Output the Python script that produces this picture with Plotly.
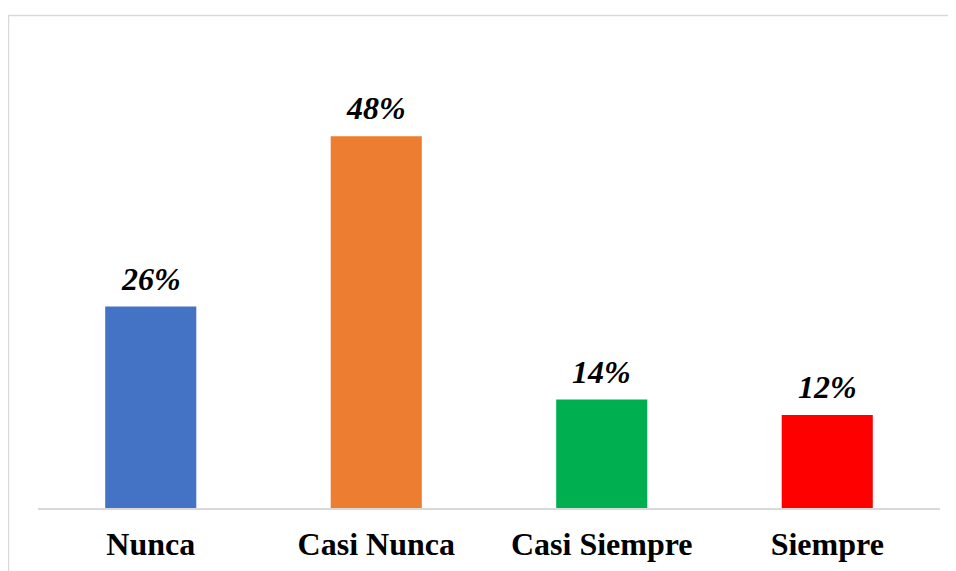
import plotly.graph_objects as go

categories = ["Nunca", "Casi Nunca", "Casi Siempre", "Siempre"]
values = [26, 48, 14, 12]
labels = ["26%", "48%", "14%", "12%"]
colors = ["#4472C4", "#ED7D31", "#00B050", "#FF0000"]

# the page adds a small body margin, so positions are offset
OFFX, OFFY = 8, 7
W, H = 956, 571
ml, mr = 38 - OFFX, W - (940 - OFFX)
mt, mb = 81 - OFFY, H - (507 - OFFY)
ymax = 55

fig = go.Figure()
fig.add_trace(go.Bar(
    x=categories, y=values, marker=dict(color=colors, line=dict(width=0)),
    width=0.404, hoverinfo="skip",
))

for c, v, t in zip(categories, values, labels):
    fig.add_annotation(
        x=c, y=v, text=f"<b><i>{t}</i></b>", showarrow=False,
        yanchor="bottom", yshift=8,
        font=dict(family="Liberation Serif", size=32, color="#000000"),
    )

plot_w = W - ml - mr
plot_h = H - mt - mb
plot_bottom = H - mb
fig.add_shape(
    type="rect", xref="paper", yref="paper",
    x0=(8.5 - OFFX - ml) / plot_w, x1=1.2,
    y0=-0.5, y1=(plot_bottom - (14.5 - OFFY)) / plot_h,
    line=dict(color="#d9d9d9", width=1.5), fillcolor="rgba(0,0,0,0)",
    layer="below",
)

fig.update_layout(
    width=W, height=H,
    margin=dict(l=ml, r=mr, t=mt, b=mb, pad=0),
    paper_bgcolor="white", plot_bgcolor="white",
    showlegend=False,
    bargap=0.596,
    font=dict(family="Liberation Serif", color="#000000"),
)
fig.update_xaxes(
    showline=True, linecolor="#d9d9d9", linewidth=1.5,
    ticks="", showgrid=False, zeroline=False,
    tickfont=dict(family="Liberation Serif", size=32, color="#000000", weight="bold"),
    ticklabelstandoff=7,
)
fig.update_yaxes(
    range=[0, ymax], visible=False, showgrid=False, zeroline=False,
)

fig.write_html("out.html", config={"displayModeBar": False})
